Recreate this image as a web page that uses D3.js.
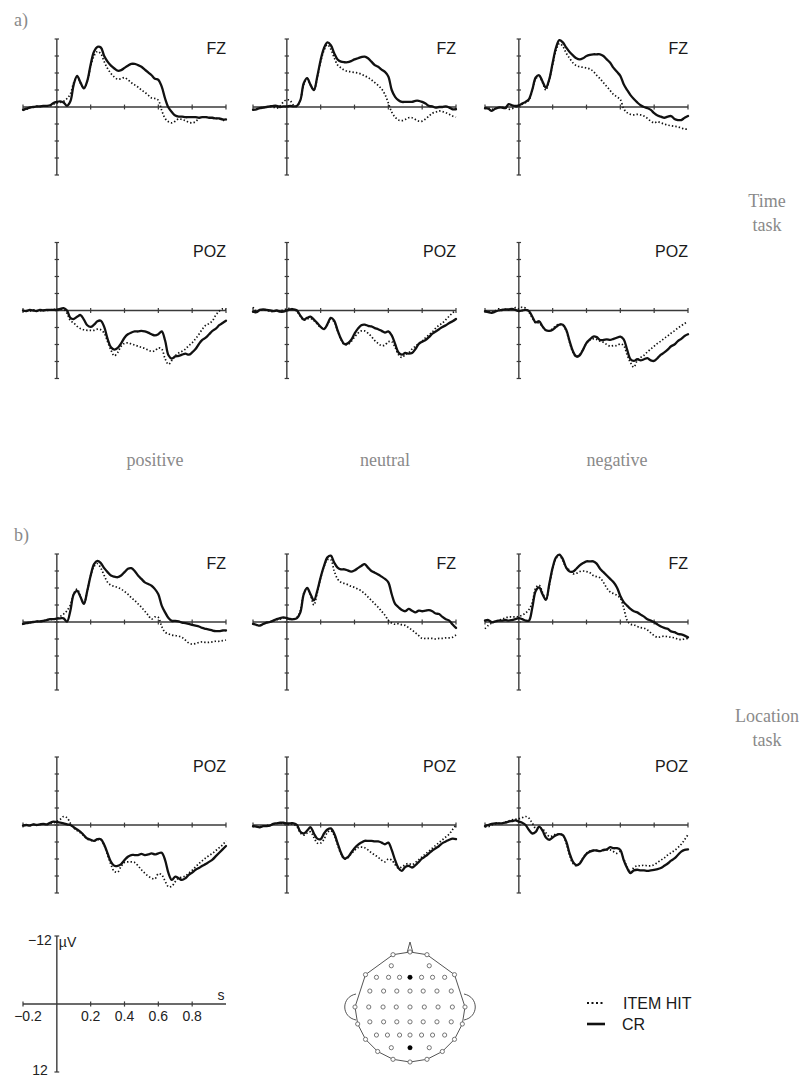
<!DOCTYPE html>
<html>
<head>
<meta charset="utf-8">
<script src="https://cdn.jsdelivr.net/npm/d3@7"></script>
<style>
  html, body { margin: 0; padding: 0; background: #fff; }
  svg { display: block; }
</style>
</head>
<body>
<svg id="chart" width="806" height="1078"></svg>
<script>
// Sample times (s) of the grand-average waveforms
const times = [-0.20,-0.18,-0.16,-0.14,-0.12,-0.10,-0.08,-0.06,-0.04,-0.02,0.00,
  0.02,0.04,0.06,0.08,0.10,0.12,0.14,0.16,0.18,0.20,
  0.22,0.24,0.26,0.28,0.30,0.32,0.34,0.36,0.38,0.40,
  0.42,0.44,0.46,0.48,0.50,0.52,0.54,0.56,0.58,0.60,
  0.62,0.64,0.66,0.68,0.70,0.72,0.74,0.76,0.78,0.80,
  0.82,0.84,0.86,0.88,0.90,0.92,0.94,0.96,0.98,1.00];

const conditions = ["positive", "neutral", "negative"];
const electrodeNames = ["FZ", "POZ"];
const taskNames = [["Time", "task"], ["Location", "task"]];
const panelTags = ["a)", "b)"];
const seriesNames = ["ITEM HIT", "CR"];

const yTickValues = [-12, -9, -6, -3, 0, 3, 6, 9, 12];
const xTickValues = [-0.2, 0.2, 0.4, 0.6, 0.8, 1.0];
const scaleTickValues = [-0.2, 0.2, 0.4, 0.6, 0.8];
const scaleTickLabels = ["\u22120.2", "0.2", "0.4", "0.6", "0.8"];

// ---- Time task (µV, negative plotted upward) ----
const timePosFzHit = [0.6,0.4,0.1,0.0,-0.1,-0.1,-0.2,-0.2,-0.2,-0.5,-0.7,
  -0.8,-1.0,-1.5,-2.3,-4.3,-5.3,-4.2,-3.3,-4.5,-7.2,
  -9.0,-9.8,-9.4,-8.0,-6.8,-5.9,-5.3,-4.9,-5.0,-5.2,
  -4.8,-4.3,-3.9,-3.5,-3.0,-2.6,-2.1,-1.6,-1.5,-1.2,
  0.6,2.0,2.6,2.8,2.5,2.1,2.2,2.4,2.7,2.8,
  2.6,2.0,1.8,1.8,1.8,2.0,2.0,2.1,2.3,2.4];
const timePosFzCr = [0.5,0.3,0.1,0.0,-0.1,-0.1,-0.2,-0.2,-0.3,-0.7,-0.9,
  -1.0,-0.8,-0.2,-1.0,-4.0,-5.5,-4.3,-3.3,-4.6,-7.5,
  -9.8,-10.6,-10.5,-9.0,-8.0,-7.3,-6.8,-6.4,-6.5,-6.9,
  -7.3,-7.6,-7.6,-7.4,-7.1,-6.6,-6.1,-5.6,-5.0,-4.8,
  -3.6,-1.5,0.1,0.9,1.5,1.7,1.7,1.8,1.8,1.8,
  1.8,1.9,1.8,1.8,1.9,1.9,2.0,2.0,2.2,2.2];
const timePosPozHit = [0.1,0.0,0.1,-0.1,0.0,0.1,-0.1,0.0,-0.1,-0.2,-0.2,
  -0.2,-0.2,0.5,1.8,2.2,2.8,3.2,3.4,3.5,3.5,
  3.5,3.3,3.4,4.0,5.5,7.0,8.0,7.4,6.3,5.8,
  5.7,5.9,6.1,6.3,6.5,6.7,7.0,7.2,7.1,6.6,
  6.8,8.5,9.5,8.8,8.0,7.5,7.2,6.8,6.2,5.7,
  5.0,4.2,3.3,2.6,2.3,1.8,0.8,0.1,-0.3,-0.2];
const timePosPozCr = [0.0,0.1,-0.1,0.0,0.1,-0.1,0.0,-0.1,-0.1,-0.1,-0.1,
  -0.3,-0.4,0.0,1.3,1.5,1.1,0.8,1.6,2.6,2.9,
  2.5,1.9,1.8,2.9,5.0,6.5,6.9,6.6,5.8,4.8,
  4.2,3.9,3.7,3.7,3.6,3.7,3.9,4.2,4.4,4.2,
  3.7,5.3,7.9,8.5,8.1,8.0,7.8,7.6,7.8,7.4,
  6.8,5.9,5.2,4.8,4.2,3.6,3.2,2.6,2.2,1.8];

const timeNeuFzHit = [0.5,0.4,0.2,0.1,0.0,-0.1,0.0,0.2,-0.2,-0.9,-1.3,
  -1.1,-0.3,-0.1,-1.2,-4.0,-5.0,-3.9,-3.0,-5.2,-8.0,
  -10.0,-11.0,-10.2,-8.7,-7.4,-6.9,-6.5,-6.3,-6.2,-6.1,
  -6.0,-5.8,-5.5,-5.2,-4.8,-4.3,-3.8,-3.2,-2.2,-0.7,
  0.9,1.8,2.3,2.4,2.2,1.9,1.9,2.2,2.5,2.5,
  2.1,1.6,1.1,0.9,0.7,0.8,1.0,1.3,1.6,1.8];
const timeNeuFzCr = [0.5,0.4,0.2,0.1,0.0,-0.1,-0.2,-0.2,0.0,-0.1,-0.1,
  -0.2,-0.1,-0.2,-1.2,-4.2,-5.1,-3.9,-3.0,-5.4,-8.3,
  -10.4,-11.4,-10.9,-9.5,-8.4,-8.0,-7.9,-7.9,-8.1,-8.4,
  -8.6,-8.8,-8.9,-8.6,-8.0,-7.4,-7.1,-6.6,-6.2,-5.4,
  -3.0,-1.8,-1.2,-0.9,-0.9,-0.9,-0.9,-1.1,-1.1,-0.9,
  -0.6,-0.2,-0.1,0.1,0.0,0.0,-0.1,0.1,0.4,0.4];
const timeNeuPozHit = [-0.6,0.2,0.0,-0.1,0.0,0.1,0.2,0.0,0.1,-0.1,-0.3,
  -0.4,-0.2,0.2,1.0,1.7,1.5,1.4,1.8,2.4,3.0,
  3.2,2.5,1.5,2.0,3.6,5.1,6.0,6.0,5.5,4.7,
  4.0,3.6,3.6,4.0,4.6,5.3,5.8,6.2,6.1,5.5,
  5.5,6.5,7.8,8.3,7.8,7.5,6.8,6.3,5.8,5.4,
  4.8,4.3,3.8,3.1,2.6,2.2,1.6,1.0,0.4,0.0];
const timeNeuPozCr = [0.2,0.3,-0.1,-0.2,-0.1,0.0,0.1,0.0,0.2,0.2,0.0,
  -0.2,-0.2,0.0,0.9,1.6,1.3,1.1,1.6,2.2,2.9,
  3.3,2.4,1.3,1.8,3.5,5.0,5.9,5.8,5.2,4.1,
  3.2,2.6,2.5,2.7,2.8,3.1,3.3,3.6,3.9,3.7,
  4.4,5.9,7.4,7.8,7.5,7.6,7.5,6.8,5.9,5.5,
  5.2,4.7,4.1,3.7,3.3,2.9,2.6,2.2,1.9,1.5];

const timeNegFzHit = [0.2,0.2,0.4,0.3,0.1,0.1,0.1,0.4,0.3,0.0,-0.2,
  -0.5,-0.8,-1.2,-3.0,-5.0,-5.4,-4.3,-3.0,-4.8,-7.5,
  -10.0,-11.2,-10.7,-9.5,-8.6,-7.8,-7.3,-7.1,-7.0,-6.9,
  -6.7,-6.3,-5.6,-5.0,-4.3,-3.6,-2.9,-2.2,-1.8,-1.3,
  0.3,1.0,1.3,1.4,1.3,1.4,1.6,2.0,2.5,2.8,
  2.6,2.8,3.0,3.2,3.3,3.4,3.5,3.7,3.9,3.9];
const timeNegFzCr = [0.2,0.3,0.7,0.3,0.1,0.1,0.2,-0.5,-0.3,-0.2,-0.3,
  -0.6,-0.9,-1.4,-3.1,-5.2,-5.6,-4.5,-3.4,-4.9,-7.8,
  -10.5,-11.8,-11.4,-10.5,-9.7,-9.1,-8.6,-8.4,-8.6,-9.0,
  -9.2,-9.3,-9.3,-9.3,-9.0,-8.4,-7.8,-6.9,-6.2,-5.5,
  -4.0,-3.0,-2.1,-1.4,-0.8,-0.3,0.0,0.2,0.5,1.1,
  1.5,1.7,1.9,1.7,1.6,2.1,2.3,2.3,1.9,1.6];
const timeNegPozHit = [0.1,0.2,0.3,0.1,-0.3,0.0,-0.2,-0.1,-0.2,-0.5,-0.3,
  -0.6,-0.4,0.3,1.3,2.2,2.2,2.9,3.5,3.6,3.2,
  2.7,2.4,2.6,3.6,5.6,7.4,8.2,7.8,6.8,5.8,
  5.2,5.0,5.1,5.4,5.6,6.0,6.3,6.2,6.2,5.9,
  6.2,7.8,9.2,10.0,8.8,8.3,7.9,7.3,6.8,6.3,
  5.8,5.4,4.9,4.5,4.0,3.6,3.1,2.7,2.3,2.0];
const timeNegPozCr = [0.1,0.3,0.4,0.2,0.0,-0.1,-0.2,-0.2,-0.3,-0.1,0.1,
  0.0,-0.1,0.1,1.1,2.1,1.9,2.8,3.5,3.6,3.4,
  2.9,2.5,2.5,3.4,5.4,7.2,8.1,7.9,6.9,5.7,
  5.1,4.6,4.7,5.2,5.2,5.1,5.2,5.0,4.8,4.6,
  5.1,6.9,8.6,8.9,8.6,8.8,8.6,8.4,8.8,8.9,
  8.4,7.8,7.4,6.9,6.3,6.0,5.4,5.0,4.5,4.2];

// ---- Location task ----
const locPosFzHit = [0.35,0.2,0.1,0.0,-0.1,-0.1,-0.2,-0.3,-0.4,-0.5,-0.6,
  -1.0,-1.4,-2.0,-3.0,-5.0,-5.8,-4.5,-3.3,-5.5,-8.2,
  -9.8,-10.3,-9.5,-8.2,-7.0,-6.5,-6.3,-6.1,-5.8,-5.4,
  -4.9,-4.3,-3.8,-3.2,-2.6,-1.9,-1.2,-0.5,-0.9,-0.8,
  0.8,1.8,2.1,2.3,2.4,2.5,2.7,3.2,3.7,3.9,
  3.8,3.6,3.5,3.6,3.6,3.5,3.4,3.4,3.3,3.2];
const locPosFzCr = [0.35,0.2,0.1,0.0,-0.1,-0.1,-0.2,-0.35,-0.5,-0.5,-0.6,
  -0.65,-0.65,-0.05,-2.0,-4.9,-5.5,-4.4,-3.2,-5.5,-8.2,
  -10.2,-10.8,-10.4,-9.5,-8.8,-8.2,-8.0,-7.9,-8.2,-8.8,
  -9.4,-9.5,-9.0,-8.2,-7.6,-7.0,-6.7,-6.4,-5.8,-4.9,
  -2.9,-1.7,-0.7,-0.2,-0.2,-0.1,0.1,0.2,0.35,0.5,
  0.65,0.8,1.05,1.2,1.35,1.5,1.6,1.6,1.5,1.5];
const locPosPozHit = [0.1,0.0,0.1,-0.1,0.0,-0.1,-0.2,-0.1,-0.2,-0.4,-0.6,
  -1.0,-1.5,-1.3,-0.3,0.5,1.0,1.4,1.9,2.5,2.7,
  2.8,2.6,2.6,3.6,5.3,7.0,8.2,8.3,7.3,6.6,
  6.5,6.5,6.6,7.2,7.9,8.5,9.0,9.4,9.5,8.6,
  8.8,9.9,10.9,10.8,10.0,9.4,9.2,9.0,8.5,8.0,
  7.4,6.8,6.3,5.8,5.4,5.0,4.5,4.0,3.5,2.8];
const locPosPozCr = [0.1,0.0,0.1,-0.1,0.0,-0.1,-0.2,-0.1,-0.4,-0.6,-0.5,
  -0.4,-0.3,-0.1,0.0,0.4,0.8,1.2,1.8,2.4,2.6,
  2.8,2.5,2.5,3.5,5.0,6.5,7.2,7.2,6.9,6.2,
  5.6,5.3,5.3,5.3,5.1,5.3,5.2,5.0,5.2,5.0,
  4.9,6.2,8.5,9.7,9.1,9.4,9.7,9.4,8.8,8.4,
  7.9,7.6,7.2,6.9,6.5,6.1,5.5,4.9,4.3,3.7];

const locNeuFzHit = [0.35,0.5,0.6,0.35,0.1,0.0,-0.2,-0.4,-0.5,-0.7,-0.6,
  -0.6,-0.5,-0.8,-2.0,-5.0,-6.0,-4.8,-3.0,-5.2,-7.8,
  -9.8,-11.0,-11.0,-9.0,-7.6,-7.0,-6.8,-6.6,-6.3,-6.1,
  -5.8,-5.5,-5.0,-4.4,-3.8,-3.2,-2.6,-1.9,-1.2,-0.3,
  0.2,0.4,0.3,0.5,0.6,1.0,1.4,1.9,2.4,2.9,
  2.9,2.9,2.9,3.0,2.9,2.9,2.8,2.8,2.7,2.3];
const locNeuFzCr = [0.35,0.5,0.65,0.35,0.1,0.0,-0.25,-0.5,-0.7,-0.8,-0.7,
  -0.5,-0.5,-0.7,-1.7,-4.9,-6.0,-4.9,-3.8,-5.5,-7.9,
  -9.9,-11.4,-11.7,-10.5,-9.6,-9.3,-9.3,-9.1,-8.9,-9.1,
  -9.5,-9.9,-10.2,-9.6,-9.0,-8.7,-8.4,-8.0,-7.6,-7.0,
  -4.9,-3.2,-2.6,-2.1,-1.9,-2.3,-2.0,-1.7,-2.0,-1.9,
  -2.0,-2.1,-1.9,-1.5,-1.4,-0.9,-0.5,-0.25,0.45,1.05];
const locNeuPozHit = [0.2,0.3,0.3,0.2,0.1,0.0,-0.2,-0.3,-0.3,-0.3,-0.2,
  -0.2,-0.1,0.3,1.4,1.8,1.4,1.2,2.2,3.2,3.2,
  2.5,1.3,1.0,1.8,3.5,5.1,6.0,5.8,5.1,4.5,
  4.0,3.9,4.0,4.4,4.9,5.3,5.7,6.2,6.5,6.0,
  6.2,7.0,7.6,7.4,7.0,6.8,7.0,6.6,6.1,5.6,
  5.1,4.6,4.1,3.6,3.1,2.6,2.1,1.6,0.8,0.0];
const locNeuPozCr = [0.2,0.3,0.4,0.2,0.2,0.1,-0.2,-0.3,-0.4,-0.4,-0.3,
  -0.3,-0.3,0.0,1.2,1.5,1.0,0.4,1.5,2.4,2.5,
  1.5,0.8,0.6,1.5,3.2,4.9,5.9,5.7,4.9,4.1,
  3.5,3.1,2.8,2.8,2.8,2.9,2.9,3.1,3.4,3.1,
  4.4,6.2,7.6,8.1,7.4,7.2,7.5,7.1,6.5,5.9,
  5.5,5.0,4.5,4.1,3.7,3.2,2.9,2.6,2.4,2.5];

const locNegFzHit = [1.2,0.6,0.2,-0.1,-0.3,-0.5,-0.7,-0.9,-0.9,-0.9,-1.0,
  -1.2,-1.6,-2.2,-3.5,-6.0,-6.5,-5.2,-3.9,-6.5,-9.4,
  -11.2,-11.8,-10.8,-9.6,-9.2,-8.5,-8.6,-8.9,-9.0,-8.9,
  -8.7,-8.2,-8.0,-7.8,-7.0,-6.0,-5.3,-5.0,-4.7,-4.2,
  -2.5,-0.3,0.4,0.5,0.8,1.0,1.1,1.4,1.9,2.4,
  2.7,2.6,2.5,2.6,2.7,2.8,3.0,3.1,3.0,2.9];
const locNegFzCr = [-0.25,-0.35,0.05,-0.1,-0.25,-0.25,-0.35,-0.25,-0.35,-0.5,-0.7,
  -0.5,-0.25,-0.25,-2.6,-5.5,-6.1,-4.9,-3.9,-6.7,-9.6,
  -11.4,-11.9,-11.1,-9.6,-8.9,-8.9,-9.4,-10.0,-10.4,-10.7,
  -10.7,-10.7,-10.3,-9.4,-8.8,-8.2,-7.6,-7.0,-6.1,-4.6,
  -3.5,-2.9,-2.3,-1.9,-1.7,-1.3,-0.95,-0.5,-0.25,0.05,
  0.45,0.8,1.05,1.2,1.65,1.8,2.1,2.2,2.4,2.7];
const locNegPozHit = [0.3,0.3,0.0,-0.2,-0.3,-0.3,-0.5,-0.7,-0.9,-1.0,-1.1,
  -1.3,-1.5,-1.2,-0.3,0.6,0.5,0.7,1.4,2.0,1.9,
  1.6,1.6,1.8,3.2,5.3,6.8,7.2,6.7,5.8,5.0,
  4.6,4.5,4.5,4.6,4.5,4.4,4.4,4.7,5.0,4.7,
  6.0,7.4,8.3,7.5,7.2,7.2,7.1,7.2,7.2,7.0,
  6.6,6.2,5.8,5.3,4.9,4.5,4.0,3.4,2.6,1.7];
const locNegPozCr = [0.2,0.0,-0.2,-0.3,-0.3,-0.3,-0.4,-0.6,-0.7,-0.8,-0.6,
  -0.4,0.0,0.9,1.5,1.2,0.3,1.0,2.2,2.6,2.2,
  1.8,1.6,1.8,2.9,5.0,6.5,7.1,6.8,5.9,5.1,
  4.7,4.5,4.5,4.6,4.4,4.3,3.9,4.1,4.1,4.4,
  6.2,7.6,8.5,8.0,7.9,8.0,8.0,8.1,8.0,7.9,
  7.8,7.6,7.2,6.8,6.3,5.9,5.3,4.7,4.4,4.3];

// Scalp montage: rim electrodes by angle (deg from nose, clockwise),
// inner electrodes by normalised position (head radius = 1)
const rimAngles = [0, 18, 54, 90, 108, 126, 144, 162, 180, -162, -144, -126, -108, -90, -54, -18];
const innerSites = [
  [-0.34,-0.75],[0.35,-0.75],
  [-0.61,-0.54],[-0.39,-0.54],[-0.19,-0.54],[0,-0.54],[0.21,-0.54],[0.41,-0.54],[0.63,-0.54],
  [-0.73,-0.29],[-0.48,-0.29],[-0.24,-0.29],[0,-0.29],[0.24,-0.29],[0.49,-0.29],[0.75,-0.29],
  [-0.75,0],[-0.49,0],[-0.25,0],[0,0],[0.26,0],[0.51,0],[0.77,0],
  [-0.73,0.27],[-0.48,0.27],[-0.24,0.27],[0,0.27],[0.24,0.27],[0.49,0.27],[0.75,0.27],
  [-0.61,0.51],[-0.41,0.51],[-0.19,0.51],[0,0.51],[0.21,0.51],[0.41,0.51],[0.63,0.51],
  [-0.34,0.74],[0,0.74],[0.35,0.74]
];
const highlightedSites = [[0,-0.54],[0,0.74]]; // FZ, POZ

// ---------------------------------------------------------------
const waveforms = {
  "0-FZ": [timePosFzHit, timePosFzCr], "1-FZ": [timeNeuFzHit, timeNeuFzCr], "2-FZ": [timeNegFzHit, timeNegFzCr],
  "0-POZ": [timePosPozHit, timePosPozCr], "1-POZ": [timeNeuPozHit, timeNeuPozCr], "2-POZ": [timeNegPozHit, timeNegPozCr]
};
const waveformsLoc = {
  "0-FZ": [locPosFzHit, locPosFzCr], "1-FZ": [locNeuFzHit, locNeuFzCr], "2-FZ": [locNegFzHit, locNegFzCr],
  "0-POZ": [locPosPozHit, locPosPozCr], "1-POZ": [locNeuPozHit, locNeuPozCr], "2-POZ": [locNegPozHit, locNegPozCr]
};
const taskData = [waveforms, waveformsLoc];

const svg = d3.select("#chart");
const axisColor = "#3a3a3a";
const serif = "'Liberation Serif', 'DejaVu Serif', serif";
const sans = "'Liberation Sans', Arial, sans-serif";
const grey = "#8a8a8a";

const colAxisX = [57, 287, 519];
const rowTops = [[39, 242.5], [554, 757]];
const plotH = 136;

function makeScales(axX, top) {
  const x = d3.scaleLinear().domain([-0.2, 1.0]).range([axX - 34, axX + 169]);
  const y = d3.scaleLinear().domain([-12, 12]).range([top, top + plotH]);
  return { x, y };
}

const lineStyles = [
  { width: 1.7, dash: "1.4,2.1", cap: "butt" },   // ITEM HIT
  { width: 2.3, dash: null, cap: "round" }        // CR
];

function drawPanel(g, x, y, label, series) {
  // axes
  g.append("line").attr("x1", x(-0.2)).attr("x2", x(1.0)).attr("y1", y(0)).attr("y2", y(0))
    .attr("stroke", axisColor).attr("stroke-width", 1.4);
  g.append("line").attr("x1", x(0)).attr("x2", x(0)).attr("y1", y(-12)).attr("y2", y(12))
    .attr("stroke", axisColor).attr("stroke-width", 1.4);
  g.selectAll(".yt").data(yTickValues).join("line")
    .attr("x1", x(0) - 2.2).attr("x2", x(0) + 2.2)
    .attr("y1", d => y(d)).attr("y2", d => y(d))
    .attr("stroke", axisColor).attr("stroke-width", 1.2);
  g.selectAll(".xt").data(xTickValues).join("line")
    .attr("x1", d => x(d)).attr("x2", d => x(d))
    .attr("y1", y(0) - 2.4).attr("y2", y(0) + 2.4)
    .attr("stroke", axisColor).attr("stroke-width", 1.2);

  const line = d3.line().x((d, i) => x(times[i])).y(d => y(d)).curve(d3.curveCatmullRom.alpha(0.5));
  series.forEach((vals, k) => {
    const st = lineStyles[k];
    g.append("path").attr("d", line(vals)).attr("fill", "none")
      .attr("stroke", "#111").attr("stroke-width", st.width)
      .attr("stroke-linejoin", "round").attr("stroke-linecap", st.cap)
      .attr("stroke-dasharray", st.dash);
  });

  g.append("text").attr("x", x(1.0)).attr("y", y(-12) + 14.5).attr("text-anchor", "end")
    .attr("font-family", sans).attr("font-size", 16).attr("fill", "#1a1a1a").text(label);
}

taskData.forEach((data, ti) => {
  electrodeNames.forEach((el, ri) => {
    conditions.forEach((cond, ci) => {
      const { x, y } = makeScales(colAxisX[ci], rowTops[ti][ri]);
      drawPanel(svg.append("g"), x, y, el, data[ci + "-" + el]);
    });
  });
});

// panel tags and task labels
svg.selectAll(".tag").data(panelTags).join("text")
  .attr("x", 14).attr("y", (d, i) => [26, 541][i])
  .attr("font-family", serif).attr("font-size", 18).attr("fill", grey).text(d => d);

svg.selectAll(".cond").data(conditions).join("text")
  .attr("x", (d, i) => colAxisX[i] + 98).attr("y", 466).attr("text-anchor", "middle")
  .attr("font-family", serif).attr("font-size", 18).attr("fill", grey).text(d => d);

taskNames.forEach((words, ti) => {
  const base = [207, 722][ti];
  words.forEach((w, k) => {
    svg.append("text").attr("x", 767).attr("y", base + k * 24).attr("text-anchor", "middle")
      .attr("font-family", serif).attr("font-size", 18).attr("fill", grey).text(w);
  });
});

// calibration axes
(function () {
  const { x, y } = makeScales(57, 936);
  const g = svg.append("g");
  g.append("line").attr("x1", x(-0.2)).attr("x2", x(1.0)).attr("y1", y(0)).attr("y2", y(0))
    .attr("stroke", axisColor).attr("stroke-width", 1.4);
  g.append("line").attr("x1", x(0)).attr("x2", x(0)).attr("y1", y(-12)).attr("y2", y(12))
    .attr("stroke", axisColor).attr("stroke-width", 1.4);
  [-12, 12].forEach(v => g.append("line").attr("x1", x(0) - 2.4).attr("x2", x(0) + 2.4)
    .attr("y1", y(v)).attr("y2", y(v)).attr("stroke", axisColor).attr("stroke-width", 1.2));
  g.selectAll(".st").data(scaleTickValues).join("line")
    .attr("x1", d => x(d)).attr("x2", d => x(d)).attr("y1", y(0) - 2.6).attr("y2", y(0) + 2.6)
    .attr("stroke", axisColor).attr("stroke-width", 1.2);
  g.selectAll(".sl").data(scaleTickValues).join("text")
    .attr("x", (d, i) => x(d) + (i === 0 ? 5 : 0)).attr("y", y(0) + 17).attr("text-anchor", "middle")
    .attr("font-family", sans).attr("font-size", 14).attr("fill", "#222")
    .text((d, i) => scaleTickLabels[i]);
  g.append("text").attr("x", x(0) - 5).attr("y", y(-12) + 9).attr("text-anchor", "end")
    .attr("font-family", sans).attr("font-size", 14).attr("fill", "#222").text("\u221212");
  g.append("text").attr("x", x(0) + 2).attr("y", y(-12) + 11).attr("font-family", sans)
    .attr("font-size", 14).attr("fill", "#222").text("\u00b5V");
  g.append("text").attr("x", x(0) - 9).attr("y", y(12) + 3).attr("text-anchor", "end")
    .attr("font-family", sans).attr("font-size", 14).attr("fill", "#222").text("12");
  g.append("text").attr("x", x(1.0) - 5).attr("y", y(0) - 4).attr("text-anchor", "middle")
    .attr("font-family", sans).attr("font-size", 14).attr("fill", "#222").text("s");
})();

// scalp montage
(function () {
  const cx = 410, cy = 1007, R = 55;
  const g = svg.append("g").attr("transform", `translate(${cx},${cy})`);
  const rim = rimAngles.map(a => [R * Math.sin(a * Math.PI / 180), -R * Math.cos(a * Math.PI / 180)]);
  const rimSorted = rimAngles.map((a, i) => ({ a: (a + 360) % 360, p: rim[i] })).sort((p, q) => p.a - q.a);
  // ears
  const ear = d3.path();
  g.append("path").attr("d", `M${-R + 1},-13 C${-R - 14},-10 ${-R - 14},10 ${-R + 1},13`)
    .attr("fill", "none").attr("stroke", "#555").attr("stroke-width", 1);
  g.append("path").attr("d", `M${R - 1},-13 C${R + 14},-10 ${R + 14},10 ${R - 1},13`)
    .attr("fill", "none").attr("stroke", "#555").attr("stroke-width", 1);
  // nose
  g.append("path").attr("d", `M-3,${-R + 1} L0,${-R - 10} L3,${-R + 1}`)
    .attr("fill", "none").attr("stroke", "#555").attr("stroke-width", 1);
  // head outline through rim sites
  g.append("path").attr("d", d3.line().curve(d3.curveLinearClosed)(rimSorted.map(d => d.p)))
    .attr("fill", "#fff").attr("stroke", "#555").attr("stroke-width", 1);
  const allSites = rim.concat(innerSites.map(p => [p[0] * R, p[1] * R]));
  g.selectAll(".site").data(allSites).join("circle")
    .attr("cx", d => d[0]).attr("cy", d => d[1]).attr("r", 2.1)
    .attr("fill", "#fff").attr("stroke", "#666").attr("stroke-width", 0.9);
  g.selectAll(".hot").data(highlightedSites).join("circle")
    .attr("cx", d => d[0] * R).attr("cy", d => d[1] * R).attr("r", 2.3).attr("fill", "#000");
})();

// legend
(function () {
  const g = svg.append("g");
  seriesNames.forEach((name, k) => {
    const st = lineStyles[k];
    const yy = [1003, 1024][k];
    g.append("line").attr("x1", 587).attr("x2", 605).attr("y1", yy).attr("y2", yy)
      .attr("stroke", "#111").attr("stroke-width", k ? 2.6 : 2).attr("stroke-dasharray", st.dash ? "2,2.5" : null);
    g.append("text").attr("x", 623 - k).attr("y", yy + 6).attr("font-family", sans)
      .attr("font-size", 16).attr("fill", "#1a1a1a").text(name);
  });
})();
</script>
</body>
</html>
